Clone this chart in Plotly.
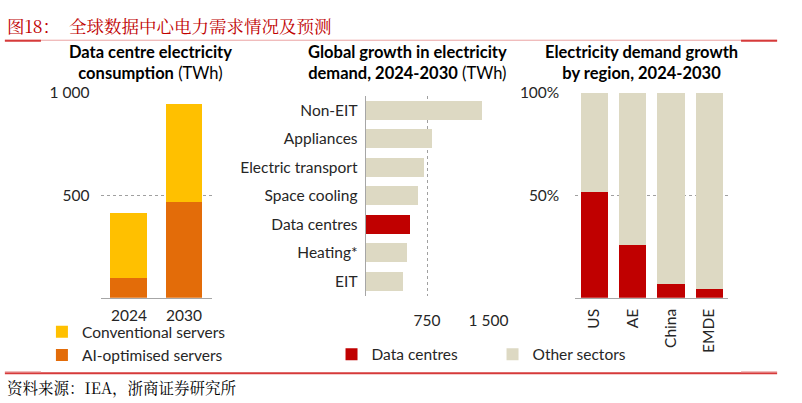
import plotly.graph_objects as go

W, H = 802, 403

# ---------------- data ----------------
years = ["2024", "2030"]
conventional = [320, 480]
ai_optimised = [95, 465]

sectors = ["Non-EIT", "Appliances", "Electric transport", "Space cooling",
           "Data centres", "Heating*", "EIT"]
other_sectors_cat = ["Non-EIT", "Appliances", "Electric transport", "Space cooling",
                     "Heating*", "EIT"]
other_sectors_val = [1420, 815, 710, 645, 508, 452]
data_centres_cat = ["Data centres"]
data_centres_val = [536]

regions = ["US", "AE", "China", "EMDE"]
region_dc_share = [51.5, 25.5, 6.7, 4.4]
region_other_share = [48.5, 74.5, 93.3, 95.6]

left_ticks = [500, 1000]
left_ticktext = ["500", "1 000"]
mid_ticks = [750, 1500]
mid_ticktext = ["750", "1 500"]
right_ticks = [50, 100]
right_ticktext = ["50%", "100%"]

# ---------------- styles ----------------
FONT = "Lato, Carlito, 'Open Sans', sans-serif"
CJK = "'Noto Serif CJK SC', 'Noto Sans CJK SC', serif"
C_CONV = "#FFC000"
C_AI = "#E36C09"
C_DC = "#C00000"
C_OTHER = "#DDD9C3"
GRID = "#A0A0A0"
AXIS = "#A6A6A6"
TXT = "#262626"
FS = 15.5


def px(x):
    return x / W


def py(y):
    return 1 - y / H


fig = go.Figure()

# left panel
fig.add_trace(go.Bar(x=years, y=ai_optimised, name="AI-optimised servers",
                     marker=dict(color=C_AI, line=dict(width=0)), width=0.67,
                     xaxis="x", yaxis="y", legend="legend", legendrank=2))
fig.add_trace(go.Bar(x=years, y=conventional, name="Conventional servers",
                     marker=dict(color=C_CONV, line=dict(width=0)), width=0.67,
                     xaxis="x", yaxis="y", legend="legend", legendrank=1))

# middle panel
fig.add_trace(go.Bar(y=data_centres_cat, x=data_centres_val, orientation="h",
                     name="Data centres", marker=dict(color=C_DC, line=dict(width=0)),
                     width=0.66, xaxis="x2", yaxis="y2", legend="legend2", legendrank=1))
fig.add_trace(go.Bar(y=other_sectors_cat, x=other_sectors_val, orientation="h",
                     name="Other sectors", marker=dict(color=C_OTHER, line=dict(width=0)),
                     width=0.66, xaxis="x2", yaxis="y2", legend="legend2", legendrank=2))

# right panel
fig.add_trace(go.Bar(x=regions, y=region_dc_share, name="Data centres",
                     marker=dict(color=C_DC, line=dict(width=0)), width=0.71,
                     xaxis="x3", yaxis="y3", showlegend=False))
fig.add_trace(go.Bar(x=regions, y=region_other_share, name="Other sectors",
                     marker=dict(color=C_OTHER, line=dict(width=0)), width=0.71,
                     xaxis="x3", yaxis="y3", showlegend=False))

axfont = dict(family=FONT, size=FS, color=TXT)

fig.update_layout(
    width=W, height=H, autosize=False,
    margin=dict(l=0, r=0, t=0, b=0),
    paper_bgcolor="white", plot_bgcolor="white",
    barmode="stack",
    font=dict(family=FONT, size=FS, color=TXT),
    xaxis=dict(domain=[px(104), px(217)], anchor="y", showline=True, linecolor=AXIS,
               linewidth=1, showgrid=False, ticks="", tickfont=axfont,
               ticklabelstandoff=4, fixedrange=True),
    yaxis=dict(domain=[py(295), py(85)], anchor="x", range=[0, 1000], tickvals=left_ticks,
               ticktext=left_ticktext, showgrid=True, gridcolor=GRID, griddash="dot",
               gridwidth=1, zeroline=False, showline=False, ticks="", tickfont=axfont,
               ticklabelstandoff=11),
    xaxis2=dict(domain=[px(375), px(501)], anchor="y2", range=[0, 1500], tickvals=mid_ticks,
                ticktext=mid_ticktext, showgrid=True, gridcolor=GRID, griddash="dot",
                gridwidth=1, zeroline=False, showline=False, ticks="", tickfont=axfont,
                ticklabelstandoff=14),
    yaxis2=dict(domain=[py(293), py(88)], anchor="x2", categoryorder="array",
                categoryarray=sectors[::-1], showline=True, linecolor=AXIS, linewidth=1,
                showgrid=False, ticks="", tickfont=axfont, ticklabelstandoff=4),
    xaxis3=dict(domain=[px(590), px(747)], anchor="y3", showline=True, linecolor=AXIS,
                linewidth=1, showgrid=False, ticks="", tickfont=axfont, tickangle=-90,
                ticklabelstandoff=4),
    yaxis3=dict(domain=[py(295), py(85)], anchor="x3", range=[0, 100], tickvals=right_ticks,
                ticktext=right_ticktext, showgrid=True, gridcolor=GRID, griddash="dot",
                gridwidth=1, zeroline=False, showline=False, ticks="", tickfont=axfont,
                ticklabelstandoff=15),
    legend=dict(x=px(43), y=py(313), xanchor="left", yanchor="top", orientation="v",
                traceorder="normal", font=dict(family=FONT, size=FS, color=TXT),
                itemwidth=30, tracegroupgap=0, bgcolor="rgba(0,0,0,0)",
                itemclick=False, itemdoubleclick=False),
    legend2=dict(x=px(340), y=py(336), xanchor="left", yanchor="top", orientation="h",
                 traceorder="normal", font=dict(family=FONT, size=FS, color=TXT), itemwidth=30,
                 entrywidth=116, entrywidthmode="pixels", bgcolor="rgba(0,0,0,0)",
                 itemclick=False, itemdoubleclick=False),
    showlegend=True,
)

# panel titles
titles = [
    (154, "<b>Data centre electricity</b><br><b>consumption</b> (TWh)"),
    (418, "<b>Global growth in electricity</b><br><b>demand, 2024-2030</b> (TWh)"),
    (658, "<b>Electricity demand growth</b><br><b>by region, 2024-2030</b>"),
]
for xc, t in titles:
    fig.add_annotation(x=px(xc), y=py(30.5), xref="paper", yref="paper", text=t,
                       showarrow=False, xanchor="center", yanchor="top", align="center",
                       font=dict(family=FONT, size=16.5, color="#000000"))

# chart heading and source
fig.add_annotation(x=px(5), y=py(15.5), xref="paper", yref="paper",
                   text="图18：  全球数据中心电力需求情况及预测", showarrow=False,
                   xanchor="left", yanchor="middle",
                   font=dict(family=CJK, size=17.5, color="#C00000"))
fig.add_annotation(x=px(5), y=py(387), xref="paper", yref="paper",
                   text="资料来源：IEA，浙商证券研究所", showarrow=False,
                   xanchor="left", yanchor="middle",
                   font=dict(family=CJK, size=15.5, color="#000000"))

# decorative rules
RED = "#D63A3A"
PINK = "#EBA3A3"
shapes = [
    dict(x0=px(5), x1=px(797), y0=py(31), y1=py(31), line=dict(color=PINK, width=1)),
    dict(x0=px(5), x1=px(42), y0=py(31.5), y1=py(31.5), line=dict(color=RED, width=2)),
    dict(x0=px(760), x1=px(797), y0=py(31.5), y1=py(31.5), line=dict(color=RED, width=2)),
    dict(x0=px(5), x1=px(797), y0=py(372.5), y1=py(372.5), line=dict(color=RED, width=2)),
    dict(x0=px(5), x1=px(42), y0=py(371), y1=py(371), line=dict(color=PINK, width=1)),
    dict(x0=px(760), x1=px(797), y0=py(371), y1=py(371), line=dict(color=PINK, width=1)),
]
for s in shapes:
    fig.add_shape(type="line", xref="paper", yref="paper", layer="above", **s)

fig.write_html("out.html", config={"displayModeBar": False},
               post_script="document.body.style.margin='0';"
                           "document.documentElement.style.overflow='hidden';")
